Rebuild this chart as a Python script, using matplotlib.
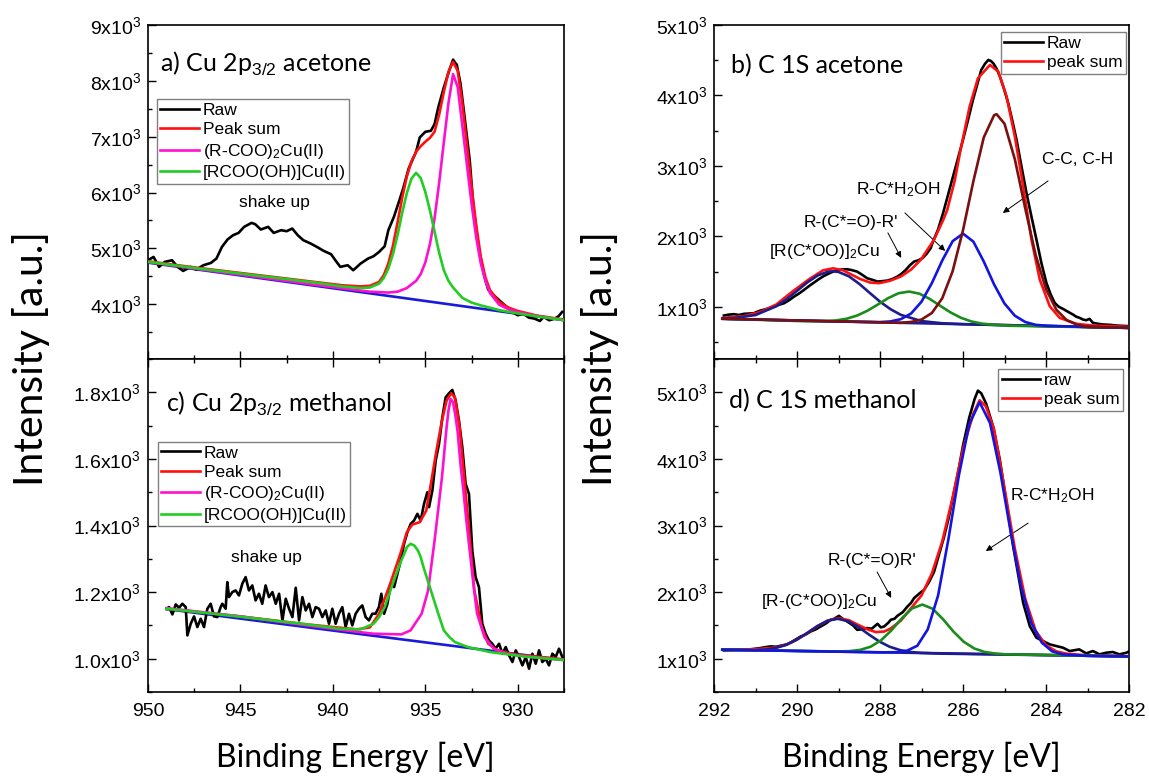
import matplotlib
matplotlib.use('Agg')
import matplotlib.pyplot as plt
from matplotlib.ticker import MultipleLocator, FuncFormatter

plt.rcParams['font.family'] = ['Liberation Sans', 'DejaVu Sans']
plt.rcParams['mathtext.fontset'] = 'custom'
plt.rcParams['mathtext.rm'] = 'Liberation Sans'
plt.rcParams['mathtext.it'] = 'Liberation Sans:italic'

# ---------------- a) Cu 2p3/2 acetone ----------------
a_raw_be = [950.0, 949.7, 949.4, 949.1, 948.7, 948.4, 948.1, 947.7, 947.4, 947.0,
            946.6, 946.3, 946.0, 945.7, 945.4, 945.1, 944.8, 944.4, 944.2, 943.9,
            943.5, 943.2, 942.8, 942.5, 942.2, 941.9, 941.6, 941.2, 940.8, 940.5,
            940.1, 939.8, 939.6, 939.2, 938.9, 938.5, 938.1, 937.8, 937.5, 937.2,
            937.0, 936.7, 936.4, 936.2, 935.9, 935.5, 935.3, 935.0, 934.7, 934.5,
            934.3, 934.0, 933.7, 933.5, 933.4, 933.3, 933.1, 932.9, 932.6, 932.4,
            932.1, 931.8, 931.6, 931.3, 930.9, 930.6, 930.3, 930.0, 929.7, 929.4,
            929.1, 928.8, 928.6, 928.3, 928.0, 927.8, 927.6]
a_raw_int = [4788, 4848, 4669, 4758, 4788, 4669, 4597, 4669, 4621, 4699,
             4740, 4818, 5027, 5159, 5236, 5278, 5386, 5457, 5433, 5338,
             5386, 5278, 5326, 5308, 5356, 5236, 5147, 5087, 5015, 4956,
             4896, 4758, 4669, 4699, 4609, 4729, 4818, 4860, 4938, 5039,
             5326, 5565, 5864, 6073, 6431, 6730, 6987, 7088, 7106, 7226,
             7524, 7883, 8194, 8380, 8330, 8290, 7955, 7417, 6581, 5744,
             4968, 4490, 4263, 4161, 4042, 3952, 3862, 3803, 3832, 3761,
             3743, 3701, 3773, 3713, 3743, 3785, 3862]
a_base_be = [950.0, 938.75, 927.5]
a_base_int = [4745, 4230, 3715]
a_sum_be = [950.0, 947.5, 945.0, 943.0, 941.0, 939.5, 938.5, 938.0, 937.5, 937.25,
            937.0, 936.75, 936.5, 936.25, 936.0, 935.75, 935.5, 935.25, 935.0, 934.75,
            934.5, 934.25, 934.0, 933.75, 933.5, 933.25, 933.0, 932.75, 932.5, 932.25,
            932.0, 931.75, 931.5, 931.0, 930.5, 930.0, 929.0, 928.0, 927.5]
a_sum_int = [4770, 4660, 4560, 4480, 4400, 4340, 4320, 4330, 4400, 4520,
             4730, 5050, 5470, 5910, 6290, 6560, 6730, 6830, 6910, 6980,
             7090, 7400, 7800, 8160, 8340, 8180, 7600, 6850, 6110, 5420,
             4850, 4480, 4250, 4040, 3940, 3880, 3800, 3750, 3725]
a_cu2_be = [950.0, 947.5, 945.0, 943.0, 941.0, 939.0, 938.0, 937.0, 936.5, 936.0,
            935.5, 935.25, 935.0, 934.75, 934.5, 934.25, 934.0, 933.75, 933.5, 933.25,
            933.0, 932.75, 932.5, 932.25, 932.0, 931.75, 931.5, 931.0, 930.5, 930.0,
            929.0, 928.0, 927.5]
a_cu2_int = [4755, 4640, 4530, 4440, 4350, 4265, 4225, 4210, 4225, 4290,
             4420, 4540, 4750, 5080, 5540, 6180, 6900, 7600, 8120, 7890,
             7200, 6500, 5800, 5200, 4730, 4420, 4200, 3990, 3910, 3860,
             3790, 3740, 3715]
a_oh_be = [950.0, 947.5, 945.0, 943.0, 941.0, 939.5, 938.5, 938.0, 937.5, 937.25,
           937.0, 936.75, 936.5, 936.25, 936.0, 935.75, 935.5, 935.25, 935.0, 934.75,
           934.5, 934.25, 934.0, 933.75, 933.5, 933.0, 932.5, 932.0, 931.0, 930.0,
           929.0, 928.0, 927.5]
a_oh_int = [4760, 4650, 4550, 4470, 4390, 4320, 4290, 4300, 4370, 4470,
            4640, 4900, 5240, 5640, 5990, 6250, 6353, 6260, 6010, 5680,
            5300, 4920, 4610, 4420, 4300, 4115, 4030, 3980, 3895, 3835,
            3785, 3740, 3715]

# ---------------- c) Cu 2p3/2 methanol ----------------
c_raw_be = [948.99, 948.86, 948.68, 948.50, 948.32, 948.14, 947.96, 947.87, 947.69, 947.51,
            947.33, 947.15, 946.97, 946.79, 946.61, 946.43, 946.25, 946.07, 945.98, 945.80,
            945.71, 945.62, 945.44, 945.26, 945.08, 944.90, 944.72, 944.54, 944.36, 944.18,
            944.00, 943.82, 943.64, 943.46, 943.27, 943.09, 942.91, 942.73, 942.55, 942.37,
            942.19, 942.01, 941.83, 941.65, 941.47, 941.29, 941.11, 940.93, 940.75, 940.57,
            940.39, 940.21, 940.03, 939.85, 939.67, 939.49, 939.31, 939.13, 938.95, 938.77,
            938.59, 938.41, 938.23, 938.05, 937.87, 937.69, 937.51, 937.38, 937.23, 937.05,
            936.87, 936.69, 936.51, 936.33, 936.15, 935.97, 935.79, 935.61, 935.43, 935.25,
            935.07, 934.89, 934.80, 934.62, 934.44, 934.26, 934.08, 933.90, 933.72, 933.54,
            933.36, 933.18, 933.00, 932.82, 932.64, 932.46, 932.28, 932.10, 931.92, 931.74,
            931.56, 931.38, 931.20, 931.01, 930.83, 930.65, 930.47, 930.29, 930.11, 929.93,
            929.75, 929.57, 929.39, 929.21, 929.03, 928.85, 928.67, 928.49, 928.31, 928.13,
            927.95, 927.77, 927.59]
c_raw_int = [1150, 1155, 1133, 1163, 1153, 1165, 1155, 1070, 1105, 1127,
             1095, 1120, 1095, 1150, 1165, 1127, 1125, 1155, 1165, 1150,
             1230, 1185, 1200, 1205, 1190, 1225, 1245, 1205, 1220, 1175,
             1195, 1165, 1220, 1185, 1200, 1165, 1195, 1115, 1180, 1150,
             1125, 1213, 1115, 1185, 1145, 1165, 1125, 1155, 1150, 1125,
             1145, 1105, 1150, 1105, 1135, 1155, 1095, 1135, 1100, 1135,
             1150, 1160, 1125, 1115, 1135, 1135, 1155, 1195, 1135, 1165,
             1225, 1215, 1255, 1295, 1345, 1380, 1405, 1415, 1435, 1415,
             1465, 1500, 1455, 1505, 1595, 1645, 1725, 1785, 1797, 1807,
             1775, 1715, 1635, 1525, 1495, 1325, 1245, 1215, 1105, 1075,
             1055, 1045, 1030, 1045, 1015, 1035, 1010, 990, 1025, 1005,
             980, 1005, 970, 1015, 985, 1025, 990, 1000, 980, 1015,
             1005, 1030, 1005]
c_base_be = [949.0, 938.25, 927.5]
c_base_int = [1149, 1072, 996]
c_sum_be = [949.0, 945.0, 941.4, 938.7, 938.0, 937.5, 936.9, 936.35, 936.0, 935.7,
            935.3, 934.95, 934.7, 934.4, 934.1, 933.85, 933.6, 933.4, 933.15, 932.9,
            932.6, 932.35, 931.95, 931.6, 931.1, 930.2, 927.5]
c_sum_int = [1150, 1127, 1103, 1088, 1094, 1135, 1225, 1315, 1380, 1403,
             1410, 1445, 1525, 1625, 1715, 1775, 1797, 1785, 1695, 1545,
             1365, 1205, 1095, 1045, 1025, 1013, 998]
c_cu2_be = [949.0, 945.0, 941.0, 939.0, 937.8, 936.3, 935.8, 935.2, 934.85, 934.5,
            934.3, 934.1, 933.85, 933.75, 933.63, 933.5, 933.36, 933.25, 933.1, 932.95,
            932.8, 932.65, 932.5, 932.35, 932.2, 931.8, 931.3, 930.6, 929.3, 927.5]
c_cu2_int = [1152, 1127, 1097, 1083, 1075, 1073, 1085, 1135, 1205, 1355,
             1450, 1545, 1695, 1745, 1780, 1770, 1725, 1680, 1585, 1510,
             1425, 1350, 1275, 1200, 1135, 1065, 1030, 1015, 1005, 996]
c_oh_be = [949.0, 945.0, 941.4, 939.6, 938.5, 937.8, 937.5, 937.2, 936.7, 936.5,
           936.3, 936.1, 936.0, 935.8, 935.6, 935.4, 935.25, 935.1, 934.9, 934.7,
           934.5, 934.3, 934.0, 933.7, 933.4, 932.7, 931.5, 929.7, 927.5]
c_oh_int = [1150, 1126, 1103, 1090, 1088, 1105, 1125, 1155, 1235, 1265,
            1295, 1320, 1335, 1345, 1340, 1325, 1305, 1275, 1240, 1205,
            1170, 1135, 1085, 1065, 1050, 1035, 1020, 1007, 996]

# ---------------- b) C 1S acetone ----------------
b_raw_be = [291.76, 291.64, 291.52, 291.40, 291.28, 291.16, 291.04, 290.96, 290.88, 290.70,
            290.55, 290.43, 290.31, 290.19, 290.07, 289.95, 289.83, 289.71, 289.59, 289.47,
            289.35, 289.21, 289.07, 288.93, 288.79, 288.67, 288.55, 288.43, 288.31, 288.19,
            288.06, 287.94, 287.82, 287.70, 287.58, 287.48, 287.38, 287.28, 287.18, 287.08,
            286.98, 286.88, 286.78, 286.72, 286.60, 286.48, 286.36, 286.24, 286.12, 286.00,
            285.88, 285.76, 285.66, 285.56, 285.47, 285.39, 285.33, 285.27, 285.19, 285.11,
            285.01, 284.91, 284.81, 284.71, 284.59, 284.47, 284.35, 284.23, 284.11, 283.99,
            283.89, 283.79, 283.69, 283.59, 283.47, 283.35, 283.27, 283.19, 283.11, 283.03,
            282.95, 282.87, 282.75, 282.63, 282.47, 282.31, 282.15, 282.00]
b_raw_int = [877, 890, 896, 885, 901, 905, 910, 930, 948, 975,
             1005, 1030, 1052, 1095, 1146, 1190, 1241, 1295, 1345, 1395,
             1439, 1480, 1515, 1530, 1534, 1520, 1500, 1455, 1406, 1385,
             1359, 1365, 1373, 1395, 1430, 1470, 1524, 1590, 1642, 1660,
             1690, 1750, 1832, 1930, 2100, 2331, 2590, 2851, 3110, 3371,
             3650, 3938, 4150, 4362, 4450, 4504, 4490, 4457, 4380, 4268,
             4090, 3890, 3640, 3371, 2990, 2615, 2280, 1954, 1620, 1340,
             1180, 1056, 1000, 971, 930, 891, 860, 844, 820, 810,
             830, 773, 760, 750, 745, 735, 730, 726]
b_base_be = [291.8, 287.0, 282.0]
b_base_int = [830, 767, 702]
b_sum_be = [291.78, 291.3, 290.9, 290.5, 290.1, 289.7, 289.37, 289.13, 288.89, 288.48,
            288.24, 288.02, 287.76, 287.5, 287.25, 287.02, 286.7, 286.48, 286.38, 286.2,
            286.06, 285.84, 285.64, 285.35, 285.15, 284.95, 284.75, 284.55, 284.35, 284.15,
            283.91, 283.67, 283.27, 282.87, 282.0]
b_sum_int = [844, 867, 924, 1033, 1222, 1396, 1519, 1547, 1519, 1396,
             1345, 1336, 1370, 1430, 1530, 1666, 1950, 2230, 2375, 2790,
             3226, 3843, 4244, 4433, 4339, 3985, 3418, 2709, 1954, 1387,
             1009, 844, 759, 735, 717]
b_cooh_be = [291.8, 291.5, 291.0, 290.5, 290.25, 290.0, 289.75, 289.5, 289.25, 289.13,
             289.0, 288.75, 288.5, 288.25, 288.0, 287.75, 287.5, 287.0, 286.5, 286.0,
             284.0, 282.0]
b_cooh_int = [837, 842, 884, 1008, 1109, 1227, 1348, 1446, 1500, 1505,
              1495, 1434, 1327, 1199, 1074, 968, 887, 798, 767, 754,
              728, 702]
b_co_be = [291.8, 289.8, 289.3, 289.05, 288.8, 288.55, 288.3, 288.05, 287.8, 287.55,
           287.3, 287.05, 286.8, 286.55, 286.3, 286.05, 285.8, 285.55, 285.3, 284.8,
           282.0]
b_co_int = [832, 796, 798, 808, 832, 877, 946, 1034, 1125, 1194,
            1217, 1187, 1112, 1015, 921, 845, 793, 763, 747, 731,
            702]
b_ch2oh_be = [291.8, 289.0, 288.0, 287.75, 287.5, 287.25, 287.0, 286.75, 286.5, 286.25,
              286.0, 285.75, 285.5, 285.25, 285.0, 284.75, 284.5, 284.25, 284.0, 283.0,
              282.0]
b_ch2oh_int = [832, 792, 784, 793, 825, 906, 1073, 1337, 1658, 1932,
               2039, 1926, 1644, 1317, 1047, 874, 785, 745, 732, 715,
               702]
b_cc_be = [291.8, 288.0, 287.5, 287.25, 287.0, 286.75, 286.5, 286.25, 286.0, 285.75,
           285.5, 285.25, 285.19, 285.0, 284.75, 284.5, 284.25, 284.0, 283.75, 283.5,
           283.25, 283.0, 282.0]
b_cc_int = [832, 780, 774, 786, 820, 913, 1122, 1505, 2087, 2783,
            3404, 3721, 3734, 3599, 3093, 2397, 1738, 1251, 958, 811,
            747, 715, 702]

# ---------------- d) C 1S methanol ----------------
d_raw_be = [291.76, 291.5, 291.2, 291.0, 290.88, 290.75, 290.63, 290.5, 290.39, 290.25,
            290.15, 290.0, 289.91, 289.8, 289.67, 289.55, 289.43, 289.3, 289.19, 289.1,
            288.99, 288.9, 288.79, 288.65, 288.55, 288.45, 288.31, 288.2, 288.06, 287.98,
            287.9, 287.8, 287.74, 287.65, 287.58, 287.45, 287.34, 287.25, 287.18, 287.05,
            286.94, 286.82, 286.7, 286.58, 286.46, 286.35, 286.25, 286.1, 286.0, 285.85,
            285.72, 285.64, 285.56, 285.44, 285.27, 285.11, 284.95, 284.79, 284.55, 284.39,
            284.23, 284.07, 283.91, 283.75, 283.59, 283.43, 283.2, 283.03, 282.87, 282.71,
            282.55, 282.39, 282.23, 282.06, 282.0]
d_raw_int = [1125, 1130, 1135, 1150, 1160, 1175, 1185, 1180, 1195, 1215,
             1244, 1300, 1334, 1360, 1409, 1440, 1484, 1530, 1584, 1600,
             1644, 1600, 1559, 1500, 1434, 1440, 1460, 1450, 1524, 1470,
             1484, 1540, 1584, 1600, 1644, 1700, 1783, 1840, 1909, 1980,
             2033, 2150, 2300, 2560, 2820, 3100, 3400, 3860, 4200, 4620,
             4900, 5025, 4985, 4826, 4477, 3979, 3332, 2684, 1838, 1489,
             1315, 1265, 1215, 1190, 1165, 1115, 1140, 1080, 1115, 1065,
             1090, 1100, 1065, 1090, 1110]
d_base_be = [291.8, 287.0, 282.0]
d_base_int = [1135, 1086, 1035]
d_sum_be = [291.8, 291.0, 290.5, 290.25, 290.0, 289.75, 289.5, 289.25, 289.0, 288.75,
            288.5, 288.3, 288.1, 287.9, 287.75, 287.5, 287.25, 287.0, 286.75, 286.5,
            286.25, 286.0, 285.75, 285.6, 285.45, 285.25, 285.0, 284.75, 284.5, 284.25,
            284.0, 283.75, 283.5, 283.0, 282.0]
d_sum_int = [1138, 1142, 1170, 1212, 1287, 1386, 1490, 1575, 1608, 1578,
             1500, 1440, 1400, 1408, 1450, 1570, 1760, 1950, 2280, 2760,
             3420, 4150, 4680, 4880, 4790, 4440, 3560, 2650, 1900, 1420,
             1200, 1110, 1075, 1050, 1038]
d_cooh_be = [291.8, 291.02, 290.77, 290.52, 290.27, 290.02, 289.77, 289.52, 289.27, 289.02,
             288.77, 288.52, 288.27, 288.02, 287.77, 287.52, 287.27, 287.02, 286.5, 282.0]
d_cooh_int = [1135, 1127, 1136, 1160, 1205, 1280, 1379, 1486, 1569, 1599,
              1564, 1476, 1364, 1260, 1180, 1130, 1101, 1087, 1076, 1035]
d_co_be = [291.8, 289.5, 288.98, 288.73, 288.48, 288.23, 287.98, 287.73, 287.48, 287.23,
           286.98, 286.73, 286.48, 286.23, 285.98, 285.73, 285.48, 285.23, 284.98, 282.0]
d_co_int = [1135, 1112, 1110, 1114, 1132, 1179, 1274, 1422, 1602, 1754,
            1813, 1749, 1592, 1407, 1253, 1154, 1101, 1078, 1066, 1035]
d_ch2oh_be = [291.8, 288.0, 287.6, 287.35, 287.1, 286.85, 286.6, 286.35, 286.1, 285.85,
              285.6, 285.35, 285.1, 284.85, 284.6, 284.35, 284.1, 283.85, 283.6, 283.0,
              282.0]
d_ch2oh_int = [1135, 1095, 1098, 1120, 1195, 1440, 1950, 2800, 3750, 4520,
               4851, 4540, 3800, 2900, 2080, 1530, 1240, 1110, 1065, 1042,
               1035]

# ---------------- figure ----------------
fig = plt.figure(figsize=(11.49, 7.78), dpi=100)
W, H = 1149, 778
ax_a = fig.add_axes([148 / W, 1 - 359 / H, 416 / W, 334 / H])
ax_c = fig.add_axes([148 / W, 1 - 692 / H, 416 / W, 333 / H])
ax_b = fig.add_axes([714 / W, 1 - 359 / H, 415 / W, 334 / H])
ax_d = fig.add_axes([714 / W, 1 - 692 / H, 415 / W, 333 / H])

lw = 1.9
big_font = ['Lato', 'DejaVu Sans']
note_size = 12.5


def sci_fmt(decimals):
    def f(v, pos):
        return f'{v / 1000:.{decimals}f}x10$^{{3}}$'
    return FuncFormatter(f)


def style(ax, xlim, ylim, xmaj, xmin, ymaj, ymin, decimals, bottom_row):
    ax.set_xlim(*xlim)
    ax.set_ylim(*ylim)
    ax.xaxis.set_major_locator(MultipleLocator(xmaj))
    ax.xaxis.set_minor_locator(MultipleLocator(xmin))
    ax.yaxis.set_major_locator(MultipleLocator(ymaj))
    ax.yaxis.set_minor_locator(MultipleLocator(ymin))
    ax.yaxis.set_major_formatter(sci_fmt(decimals))
    ax.tick_params(which='both', direction='in', right=False, width=1.0, labelsize=14)
    ax.tick_params(which='major', length=6)
    ax.tick_params(which='minor', length=3)
    ax.tick_params(axis='x', which='both', top=bottom_row, pad=8)
    ax.tick_params(axis='y', pad=5)
    if not bottom_row:
        ax.tick_params(axis='x', labelbottom=False)
    for sp in ax.spines.values():
        sp.set_linewidth(1.2)


# panel a
ax_a.plot(a_raw_be, a_raw_int, color='black', lw=lw, label='Raw', zorder=3)
ax_a.plot(a_base_be, a_base_int, color='#1a1ad8', lw=lw, zorder=2)
ax_a.plot(a_sum_be, a_sum_int, color='#ff1010', lw=lw, label='Peak sum', zorder=4)
ax_a.plot(a_cu2_be, a_cu2_int, color='#ff10d0', lw=lw, label='(R-COO)$_2$Cu(II)', zorder=5)
ax_a.plot(a_oh_be, a_oh_int, color='#22cc22', lw=lw, label='[RCOO(OH)]Cu(II)', zorder=5)
style(ax_a, (950, 927.5), (3020, 9000), 5, 2.5, 1000, 500, 0, False)
ax_a.text(0.029, 0.859, 'a) Cu 2p$_{3/2}$ acetone', transform=ax_a.transAxes,
          fontsize=18, family=big_font, va='baseline')
ax_a.text(943.14, 5828, 'shake up', fontsize=note_size, ha='center', va='center')

# panel c
ax_c.plot(c_raw_be, c_raw_int, color='black', lw=lw, label='Raw', zorder=3)
ax_c.plot(c_base_be, c_base_int, color='#1a1ad8', lw=lw, zorder=2)
ax_c.plot(c_sum_be, c_sum_int, color='#ff1010', lw=lw, label='Peak sum', zorder=4)
ax_c.plot(c_cu2_be, c_cu2_int, color='#ff10d0', lw=lw, label='(R-COO)$_2$Cu(II)', zorder=5)
ax_c.plot(c_oh_be, c_oh_int, color='#22cc22', lw=lw, label='[RCOO(OH)]Cu(II)', zorder=5)
style(ax_c, (950, 927.5), (900, 1900), 5, 2.5, 200, 100, 1, True)
ax_c.text(0.043, 0.841, 'c) Cu 2p$_{3/2}$ methanol', transform=ax_c.transAxes,
          fontsize=18, family=big_font, va='baseline')
ax_c.text(943.57, 1305, 'shake up', fontsize=note_size, ha='center', va='center')

# panel b
ax_b.plot(b_raw_be, b_raw_int, color='black', lw=lw, label='Raw', zorder=3)
ax_b.plot(b_base_be, b_base_int, color='#1c1c9a', lw=lw, zorder=2)
ax_b.plot(b_cooh_be, b_cooh_int, color='#1c1c8c', lw=lw, zorder=5)
ax_b.plot(b_co_be, b_co_int, color='#1a8c1a', lw=lw, zorder=5)
ax_b.plot(b_ch2oh_be, b_ch2oh_int, color='#1414e0', lw=lw, zorder=5)
ax_b.plot(b_cc_be, b_cc_int, color='#7a1010', lw=lw, zorder=5)
ax_b.plot(b_sum_be, b_sum_int, color='#ff1010', lw=lw, label='peak sum', zorder=4)
style(ax_b, (292, 282), (260, 5000), 2, 1, 1000, 500, 0, False)
ax_b.text(0.041, 0.856, 'b) C 1S acetone', transform=ax_b.transAxes,
          fontsize=18, family=big_font, va='baseline')

arrow = dict(arrowstyle='-|>', color='black', lw=0.7, mutation_scale=9, shrinkA=0, shrinkB=0)
ax_b.text(283.23, 3085, 'C-C, C-H', fontsize=note_size, ha='center', va='center')
ax_b.annotate('', xy=(285.04, 2333), xytext=(283.95, 2787), arrowprops=arrow)
ax_b.text(287.57, 2660, 'R-C*H$_2$OH', fontsize=note_size, ha='center', va='center')
ax_b.annotate('', xy=(286.43, 1794), xytext=(287.40, 2333), arrowprops=arrow)
ax_b.text(288.70, 2191, "R-(C*=O)-R'", fontsize=note_size, ha='center', va='center')
ax_b.annotate('', xy=(287.49, 1695), xytext=(287.81, 2050), arrowprops=arrow)
ax_b.text(289.35, 1780, '[R(C*OO)]$_2$Cu', fontsize=note_size, ha='center', va='center')

# panel d
ax_d.plot(d_raw_be, d_raw_int, color='black', lw=lw, label='raw', zorder=3)
ax_d.plot(d_base_be, d_base_int, color='#1c1c9a', lw=lw, zorder=2)
ax_d.plot(d_cooh_be, d_cooh_int, color='#1c1c8c', lw=lw, zorder=5)
ax_d.plot(d_co_be, d_co_int, color='#1a8c1a', lw=lw, zorder=5)
ax_d.plot(d_ch2oh_be, d_ch2oh_int, color='#1414e0', lw=lw, zorder=5)
ax_d.plot(d_sum_be, d_sum_int, color='#ff1010', lw=lw, label='peak sum', zorder=4)
style(ax_d, (292, 282), (500, 5500), 2, 1, 1000, 500, 0, True)
ax_d.text(0.036, 0.853, 'd) C 1S methanol', transform=ax_d.transAxes,
          fontsize=18, family=big_font, va='baseline')
ax_d.text(283.86, 3455, 'R-C*H$_2$OH', fontsize=note_size, ha='center', va='center')
ax_d.annotate('', xy=(285.45, 2617), xytext=(284.43, 3036), arrowprops=arrow)
ax_d.text(288.19, 2467, "R-(C*=O)R'", fontsize=note_size, ha='center', va='center')
ax_d.annotate('', xy=(287.73, 1913), xytext=(288.07, 2302), arrowprops=arrow)
ax_d.text(289.47, 1853, '[R-(C*OO)]$_2$Cu', fontsize=note_size, ha='center', va='center')

# legends
leg_kw = dict(frameon=True, fancybox=False, edgecolor='#808080', framealpha=1,
              fontsize=12.5, handlelength=2.2, handletextpad=0.25, labelspacing=0.25,
              borderpad=0.2, borderaxespad=0)
for ax, anchor, loc in [(ax_a, (0.0216, 0.778), 'upper left'),
                        (ax_c, (0.024, 0.751), 'upper left'),
                        (ax_b, (0.993, 0.979), 'upper right'),
                        (ax_d, (0.986, 0.970), 'upper right')]:
    leg = ax.legend(loc=loc, bbox_to_anchor=anchor, **leg_kw)
    leg.get_frame().set_linewidth(1.0)

# axis labels
fig.text(31 / W, 1 - 358 / H, 'Intensity [a.u.]', rotation=90, ha='center', va='center',
         fontsize=29.5, family=big_font)
fig.text(600 / W, 1 - 358 / H, 'Intensity [a.u.]', rotation=90, ha='center', va='center',
         fontsize=29.5, family=big_font)
fig.text(355 / W, 1 - 757 / H, 'Binding Energy [eV]', ha='center', va='center',
         fontsize=23, family=big_font)
fig.text(921 / W, 1 - 757 / H, 'Binding Energy [eV]', ha='center', va='center',
         fontsize=23, family=big_font)

fig.savefig('out.png', dpi=100)
